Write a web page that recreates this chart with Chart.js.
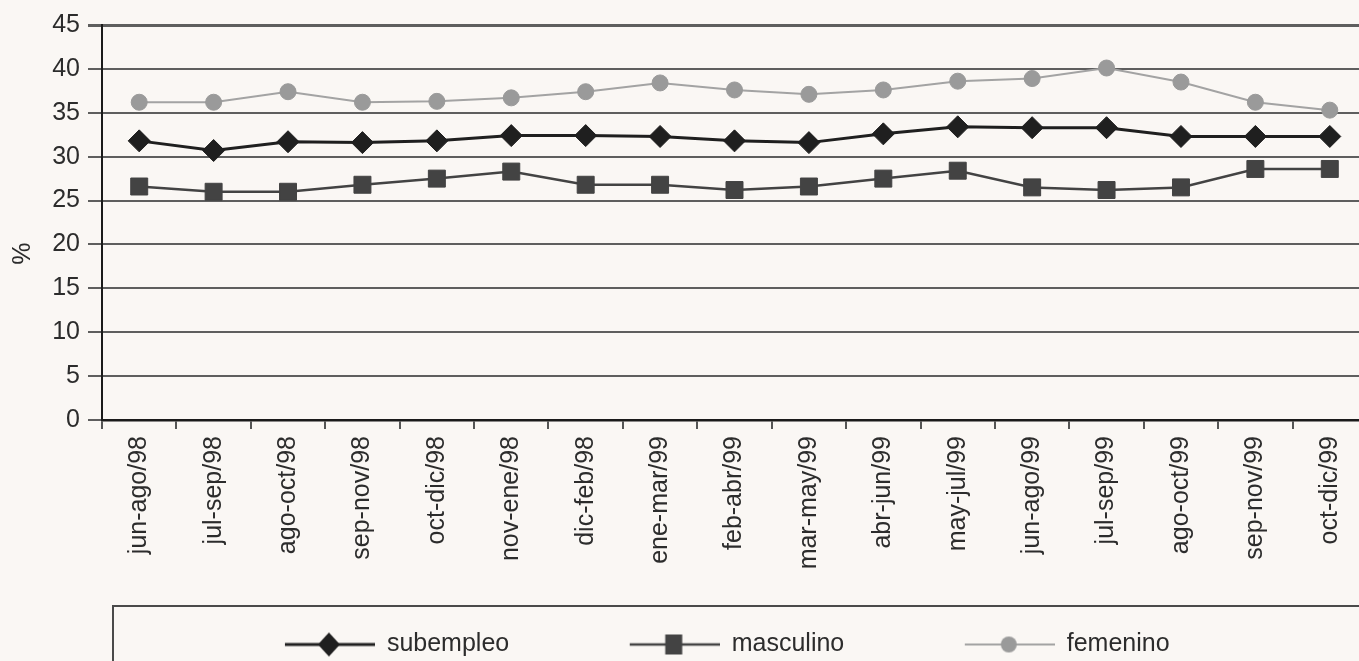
<!DOCTYPE html>
<html>
<head>
<meta charset="utf-8">
<script src="https://cdn.jsdelivr.net/npm/chart.js@4.4.1/dist/chart.umd.min.js"></script>
<style>
  html, body { margin: 0; padding: 0; overflow: hidden; background: #faf7f4; }
  #wrap { width: 1380px; height: 667px; }
</style>
</head>
<body>
<div id="wrap"><canvas id="c" width="1380" height="667"></canvas></div>
<script>
const categories = ["jun-ago/98","jul-sep/98","ago-oct/98","sep-nov/98","oct-dic/98","nov-ene/98","dic-feb/98","ene-mar/99","feb-abr/99","mar-may/99","abr-jun/99","may-jul/99","jun-ago/99","jul-sep/99","ago-oct/99","sep-nov/99","oct-dic/99"];
const subempleo = [31.8, 30.7, 31.7, 31.6, 31.8, 32.4, 32.4, 32.3, 31.8, 31.6, 32.6, 33.4, 33.3, 33.3, 32.3, 32.3, 32.3];
const masculino = [26.6, 26.0, 26.0, 26.8, 27.5, 28.3, 26.8, 26.8, 26.2, 26.6, 27.5, 28.4, 26.5, 26.2, 26.5, 28.6, 28.6];
const femenino  = [36.2, 36.2, 37.4, 36.2, 36.3, 36.7, 37.4, 38.4, 37.6, 37.1, 37.6, 38.6, 38.9, 40.1, 38.5, 36.2, 35.3];
const yTicks = [0, 5, 10, 15, 20, 25, 30, 35, 40, 45];

const FONT = "'Liberation Sans', Arial, sans-serif";
const TXT = '#2c2c2c';
const C_SUB = '#1f1f1f', C_MAS = '#434343', C_FEM = '#a3a3a3';

function legendImg(kind) {
  const W = 168, H = 32, cv = document.createElement('canvas');
  cv.width = W; cv.height = H;
  const g = cv.getContext('2d');
  const x0 = 78, x1 = 168, cx = 122, cy = 16;
  if (kind === 'sub') {
    g.strokeStyle = C_SUB; g.lineWidth = 3;
    g.beginPath(); g.moveTo(x0, cy); g.lineTo(x1, cy); g.stroke();
    g.fillStyle = C_SUB;
    g.beginPath(); g.moveTo(cx, cy - 12); g.lineTo(cx + 11, cy); g.lineTo(cx, cy + 12); g.lineTo(cx - 11, cy); g.closePath(); g.fill();
  } else if (kind === 'mas') {
    g.strokeStyle = C_MAS; g.lineWidth = 2.5;
    g.beginPath(); g.moveTo(x0, cy); g.lineTo(x1, cy); g.stroke();
    g.fillStyle = C_MAS;
    g.fillRect(cx - 8.5, cy - 10, 17, 20);
  } else {
    g.strokeStyle = C_FEM; g.lineWidth = 2;
    g.beginPath(); g.moveTo(x0, cy); g.lineTo(x1, cy); g.stroke();
    g.fillStyle = '#9a9a9a';
    g.beginPath(); g.arc(cx, cy, 8, 0, Math.PI * 2); g.fill();
  }
  return cv;
}
const legendImgs = [legendImg('sub'), legendImg('mas'), legendImg('fem')];

const legendBox = {
  id: 'legendBox',
  afterDraw(chart) {
    const ctx = chart.ctx;
    ctx.save();
    ctx.strokeStyle = '#4a4a4a';
    ctx.lineWidth = 2;
    ctx.strokeRect(113, 606, 1400, 200);
    ctx.restore();
  }
};
const bg = {
  id: 'bg',
  beforeDraw(chart) {
    const ctx = chart.ctx;
    ctx.save(); ctx.fillStyle = '#faf7f4'; ctx.fillRect(0, 0, chart.width, chart.height); ctx.restore();
  }
};

new Chart(document.getElementById('c'), {
  type: 'line',
  data: {
    labels: categories,
    datasets: [
      { label: 'subempleo', data: subempleo, borderColor: C_SUB, backgroundColor: C_SUB, borderWidth: 3,
        pointStyle: 'rectRot', pointRadius: 11, pointHoverRadius: 11, pointBorderWidth: 1, tension: 0 },
      { label: 'masculino', data: masculino, borderColor: C_MAS, backgroundColor: C_MAS, borderWidth: 2.5,
        pointStyle: 'rect', pointRadius: 12, pointHoverRadius: 12, pointBorderWidth: 1, tension: 0 },
      { label: 'femenino', data: femenino, borderColor: C_FEM, backgroundColor: '#9a9a9a', pointBorderColor: '#9a9a9a', borderWidth: 2,
        pointStyle: 'circle', pointRadius: 8, pointHoverRadius: 8, pointBorderWidth: 1, tension: 0 }
    ]
  },
  options: {
    responsive: false,
    animation: false,
    layout: { padding: { top: 25, right: 3, left: 0, bottom: 0 } },
    plugins: {
      tooltip: { enabled: false },
      legend: {
        position: 'bottom',
        labels: {
          usePointStyle: true,
          pointStyleWidth: 167,
          padding: 43,
          color: TXT,
          font: { family: FONT, size: 25 },
          generateLabels(chart) {
            return chart.data.datasets.map((d, i) => ({
              text: d.label, pointStyle: legendImgs[i], datasetIndex: i,
              fillStyle: 'transparent', strokeStyle: 'transparent', lineWidth: 0, fontColor: TXT
            }));
          }
        }
      }
    },
    scales: {
      x: {
        offset: true,
        afterFit(scale) { scale.height = 169; },
        grid: { offset: true, drawOnChartArea: false, drawTicks: true, tickLength: 9, color: '#555', lineWidth: 2 },
        border: { color: '#1a1a1a', width: 2.5 },
        ticks: { autoSkip: false, maxRotation: 90, minRotation: 90, padding: 7, color: TXT,
          font: { family: FONT, size: 25 } }
      },
      y: {
        min: 0, max: 45,
        afterFit(scale) { scale.width = 102; },
        afterBuildTicks(scale) { scale.ticks = yTicks.map(v => ({ value: v })); },
        grid: {
          color: '#5e5e5e', tickColor: '#5e5e5e', tickLength: 14,
          lineWidth: (ctx) => (ctx.tick && ctx.tick.value === 45 ? 3 : 2)
        },
        border: { color: '#1a1a1a', width: 2 },
        ticks: { padding: 8, color: TXT, font: { family: FONT, size: 25 } },
        title: { display: true, text: '%' + '\u00a0'.repeat(9), color: TXT, padding: { top: 8, bottom: 0 },
          font: { family: FONT, size: 25 } }
      }
    }
  },
  plugins: [bg, legendBox]
});
</script>
</body>
</html>
